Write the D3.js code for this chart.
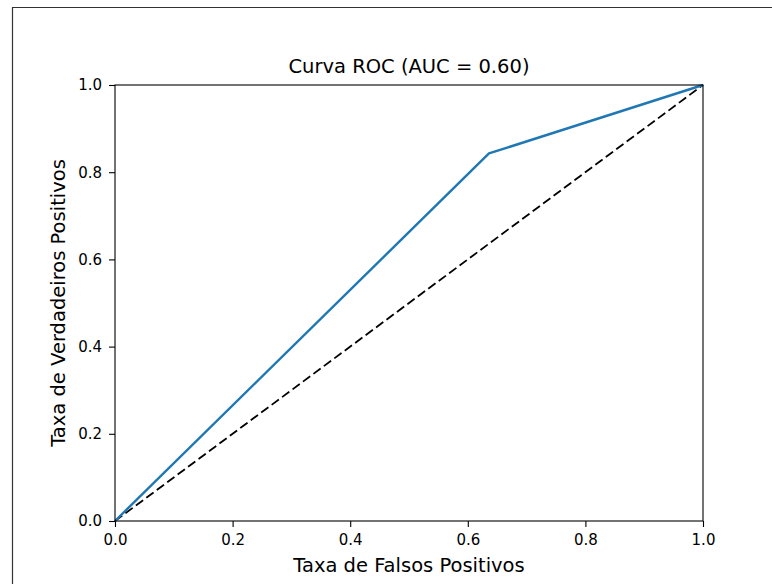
<!DOCTYPE html>
<html>
<head>
<meta charset="utf-8">
<script src="https://cdn.jsdelivr.net/npm/d3@7"></script>
<style>
  body { margin: 0; background: #fff; }
  svg { display: block; font-family: "DejaVu Sans", sans-serif; }
</style>
</head>
<body>
<script>
// ROC curve points
const fpr = [0.0, 0.636, 1.0];
const tpr = [0.0, 0.843, 1.0];
// chance diagonal
const diagX = [0, 1];
const diagY = [0, 1];
const ticks = [0.0, 0.2, 0.4, 0.6, 0.8, 1.0];
const titleText = "Curva ROC (AUC = 0.60)";
const xLabel = "Taxa de Falsos Positivos";
const yLabel = "Taxa de Verdadeiros Positivos";

const W = 772, H = 584;
const margin = { top: 85, right: 69, bottom: 63, left: 115 };
const width = W - margin.left - margin.right;
const height = H - margin.top - margin.bottom;

const svg = d3.select("body").append("svg")
  .attr("width", W)
  .attr("height", H);

// outer frame of the screenshot
svg.append("path")
  .attr("d", `M12.5,${H} V7.5 H${W}`)
  .attr("fill", "none")
  .attr("stroke", "#333")
  .attr("stroke-width", 1.2);

const g = svg.append("g")
  .attr("transform", `translate(${margin.left},${margin.top})`);

const x = d3.scaleLinear().domain([0, 1]).range([0, width]);
const y = d3.scaleLinear().domain([0, 1]).range([height, 0]);

const line = d3.line().x(d => x(d[0])).y(d => y(d[1]));

// dashed diagonal
g.append("path")
  .datum(d3.zip(diagX, diagY))
  .attr("d", line)
  .attr("fill", "none")
  .attr("stroke", "#000")
  .attr("stroke-width", 1.8)
  .attr("stroke-dasharray", "9,4");

// ROC curve
g.append("path")
  .datum(d3.zip(fpr, tpr))
  .attr("d", line)
  .attr("fill", "none")
  .attr("stroke", "#1f77b4")
  .attr("stroke-width", 2.4)
  .attr("stroke-linejoin", "round");

// axes
const xAxis = g.append("g")
  .attr("transform", `translate(0,${height})`)
  .call(d3.axisBottom(x).tickValues(ticks).tickFormat(d3.format(".1f")).tickSize(6).tickPadding(7));
const yAxis = g.append("g")
  .call(d3.axisLeft(y).tickValues(ticks).tickFormat(d3.format(".1f")).tickSize(6).tickPadding(7));

[xAxis, yAxis].forEach(a => {
  a.select(".domain").remove();
  a.selectAll("line").attr("stroke", "#000").attr("stroke-width", 1.1);
  a.selectAll("text").attr("fill", "#000").style("font-size", "15px").style("font-family", "DejaVu Sans");
});

// spines
g.append("rect")
  .attr("width", width)
  .attr("height", height)
  .attr("fill", "none")
  .attr("stroke", "#000")
  .attr("stroke-width", 1.1);

// title
g.append("text")
  .attr("x", width / 2)
  .attr("y", -12)
  .attr("text-anchor", "middle")
  .style("font-size", "19.5px")
  .text(titleText);

// axis labels
g.append("text")
  .attr("x", width / 2)
  .attr("y", height + 51)
  .attr("text-anchor", "middle")
  .style("font-size", "19.5px")
  .text(xLabel);

g.append("text")
  .attr("transform", "rotate(-90)")
  .attr("x", -height / 2)
  .attr("y", -50)
  .attr("text-anchor", "middle")
  .style("font-size", "19.5px")
  .text(yLabel);
</script>
</body>
</html>
